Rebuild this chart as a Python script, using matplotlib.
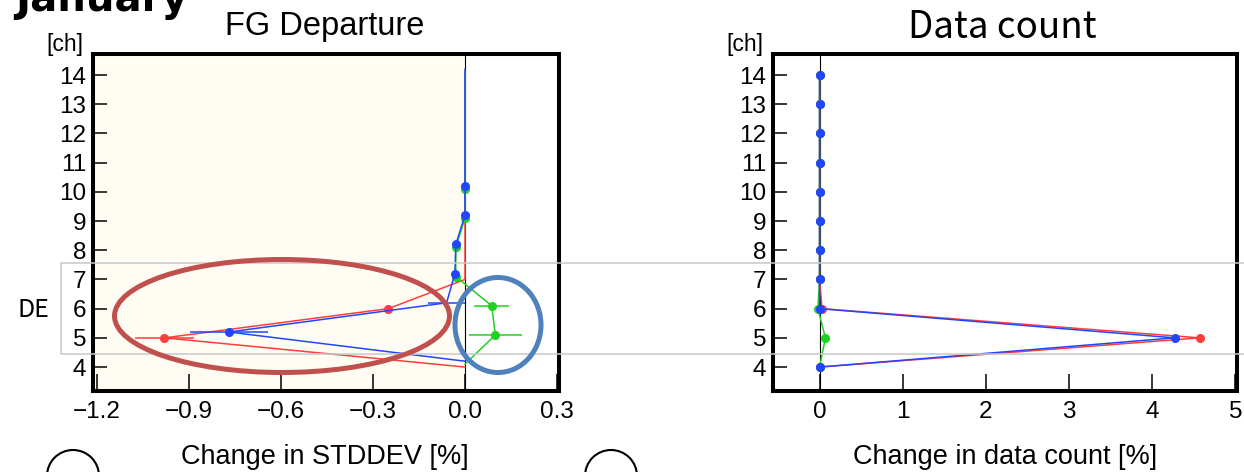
import numpy as np
import matplotlib.pyplot as plt
from matplotlib.patches import Ellipse, Rectangle

# channel numbers (vertical axis)
channels = [4, 5, 6, 7, 8, 9, 10, 11, 12, 13, 14]

# FG departure: change in STDDEV [%] per experiment
fg_red = [0.0, -0.98, -0.25, 0.0, 0.0, 0.0, 0.0, 0.0, 0.0, 0.0, 0.0]
fg_red_err = [0.0, 0.095, 0.0, 0.0, 0.0, 0.0, 0.0, 0.0, 0.0, 0.0, 0.0]
fg_red_dot = [False, True, True, False, False, False, False, False, False, False, False]

fg_green = [0.0, 0.099, 0.087, -0.03, -0.03, 0.0, 0.0, 0.0, 0.0, 0.0, 0.0]
fg_green_err = [0.0, 0.087, 0.057, 0.0, 0.0, 0.0, 0.0, 0.0, 0.0, 0.0, 0.0]
fg_green_dot = [False, True, True, True, True, True, True, False, False, False, False]

fg_blue = [0.0, -0.77, -0.06, -0.033, -0.03, 0.0, 0.0, 0.0, 0.0, 0.0, 0.0]
fg_blue_err = [0.0, 0.128, 0.06, 0.0, 0.0, 0.0, 0.0, 0.0, 0.0, 0.0, 0.0]
fg_blue_dot = [False, True, False, True, True, True, True, False, False, False, False]

# data count: change in number of used observations [%]
dc_red = [0.0, 4.57, 0.03, 0.0, 0.0, 0.0, 0.0, 0.0, 0.0, 0.0, 0.0]
dc_green = [0.0, 0.07, -0.02, 0.0, 0.0, 0.0, 0.0, 0.0, 0.0, 0.0, 0.0]
dc_blue = [0.0, 4.27, 0.0, 0.0, 0.0, 0.0, 0.0, 0.0, 0.0, 0.0, 0.0]

fg_xticks = [-1.2, -0.9, -0.6, -0.3, 0.0, 0.3]
dc_xticks = [0, 1, 2, 3, 4, 5]

RED = "#ff3d3d"
GREEN = "#1fd21f"
BLUE = "#2246ff"

W, H = 1244, 472
fig = plt.figure(figsize=(W / 100, H / 100), dpi=100)


def px(x, y):
    # pixel position (from top-left) -> figure fraction
    return x / W, 1 - y / H


def draw_series(ax, x, y, err, dots, color, z):
    x = np.asarray(x)
    y = np.asarray(y, dtype=float)
    err = np.asarray(err)
    dots = np.asarray(dots)
    ax.plot(x, y, color=color, lw=1.1, zorder=z)
    ax.plot(x[dots], y[dots], "o", color=color, ms=5.5, mec=color, zorder=z + 0.5)
    m = err > 0
    if m.any():
        ax.errorbar(x[m], y[m], xerr=err[m], fmt="none", ecolor=color,
                    elinewidth=1.1, capsize=0, zorder=z)


def style_axes(ax, xlim, xticks, xticklabels):
    ax.set_xlim(*xlim)
    ax.set_ylim(3.18, 14.72)
    ax.set_yticks(channels)
    ax.set_xticks(xticks)
    ax.set_xticklabels(xticklabels)
    for s in ax.spines.values():
        s.set_linewidth(2.9)
    ax.tick_params(axis="y", direction="in", length=10, width=1.1,
                   labelsize=17.5, pad=5, right=False)
    ax.tick_params(axis="x", direction="in", length=12, width=1.1,
                   labelsize=17.5, pad=7, top=False)
    for lab in ax.get_xticklabels() + ax.get_yticklabels():
        lab.set_fontfamily("Liberation Sans")


# left panel: FG departure
ax1 = fig.add_axes([93 / W, 1 - 391 / H, 466 / W, 337 / H])
ax1.axvspan(-2, 0, color="#fffdf3", zorder=0)
ax1.axvline(0, color="black", lw=0.8, zorder=1)
draw_series(ax1, fg_red, np.array(channels) + 0.0, fg_red_err, fg_red_dot, RED, 2)
draw_series(ax1, fg_green, np.array(channels) + 0.1, fg_green_err, fg_green_dot, GREEN, 3)
draw_series(ax1, fg_blue, np.array(channels) + 0.2, fg_blue_err, fg_blue_dot, BLUE, 4)
style_axes(ax1, (-1.213, 0.3065), fg_xticks, [f"{t:.1f}".replace("-", "\u2212") for t in fg_xticks])

# right panel: data count
ax2 = fig.add_axes([773 / W, 1 - 391 / H, 464 / W, 337 / H])
ax2.axvline(0, color="black", lw=0.8, zorder=1)
all_dots = [True] * len(channels)
no_err = [0.0] * len(channels)
draw_series(ax2, dc_red, channels, no_err, all_dots, RED, 2)
draw_series(ax2, dc_green, channels, no_err, all_dots, GREEN, 3)
draw_series(ax2, dc_blue, channels, no_err, all_dots, BLUE, 4)
style_axes(ax2, (-0.56, 5.02), dc_xticks, [str(t) for t in dc_xticks])

# titles and axis labels
fig.text(*px(325, 27), "FG Departure", ha="center", va="center",
         fontsize=23.5, family="Liberation Sans")
fig.text(*px(1002, 27), "Data count", ha="center", va="center",
         fontsize=26.5, family="Noto Sans CJK JP")
fig.text(*px(325, 457), "Change in STDDEV [%]", ha="center", va="center",
         fontsize=19.5, family="Liberation Sans")
fig.text(*px(1005, 457), "Change in data count [%]", ha="center", va="center",
         fontsize=19.5, family="Liberation Sans")
fig.text(*px(83, 45), "[ch]", ha="right", va="center", fontsize=16.5,
         family="Liberation Sans")
fig.text(*px(763, 45), "[ch]", ha="right", va="center", fontsize=16.5,
         family="Liberation Sans")
fig.text(*px(15, 11), "January", ha="left", va="baseline", fontsize=29,
         fontweight="bold", family="DejaVu Sans")
fig.text(*px(33, 310), "DE", ha="center", va="center", fontsize=18,
         family="Noto Sans CJK JP")

# band marking the DE channels
x0, y0 = px(61, 354)
fig.add_artist(Rectangle((x0, y0), (W + 10 - 61) / W, 91 / H, transform=fig.transFigure,
                         fill=False, ec="#c8c8c8", lw=1.1, zorder=10))

# highlight ellipses
cx, cy = px(282, 316)
fig.add_artist(Ellipse((cx, cy), 335 / W, 113 / H, transform=fig.transFigure,
                       fill=False, ec="#c0504d", lw=3.6, zorder=11))
cx, cy = px(498, 325)
fig.add_artist(Ellipse((cx, cy), 86 / W, 95 / H, transform=fig.transFigure,
                       fill=False, ec="#4f81bd", lw=3.6, zorder=11))

# circled markers along the bottom edge
for cxp in (73, 611):
    cx, cy = px(cxp, 476)
    fig.add_artist(Ellipse((cx, cy), 52 / W, 52 / H, transform=fig.transFigure,
                           fill=False, ec="black", lw=1.5, zorder=11))

fig.savefig("out.png", dpi=100)
